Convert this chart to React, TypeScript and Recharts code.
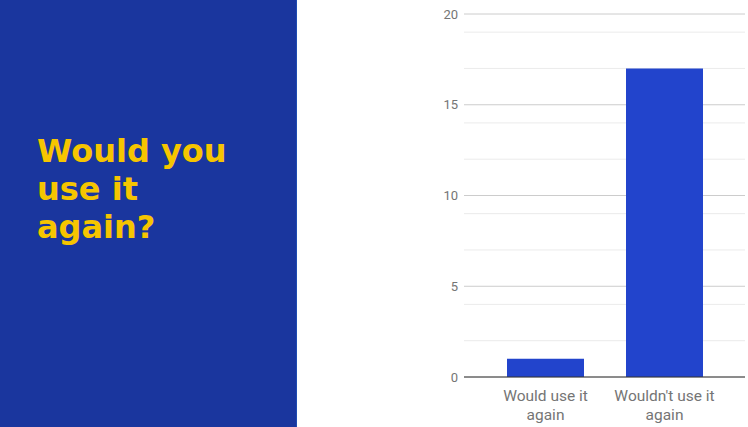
import React from "react";
import {
  BarChart,
  Bar,
  XAxis,
  YAxis,
  CartesianGrid,
  ReferenceLine,
  Text,
} from "recharts";

const categories = ["Would use it again", "Wouldn't use it again"];
const counts = [1, 17];
const majorTicks = [0, 5, 10, 15, 20];
const minorTicks = [1, 2, 3, 4, 6, 7, 8, 9, 11, 12, 13, 14, 16, 17, 18, 19];

const data = categories.map((name, i) => ({ name, value: counts[i] }));

const WrapTick = (props: any) => {
  const { x, y, payload } = props;
  return (
    <Text
      x={x}
      y={y + 5}
      width={112}
      textAnchor="middle"
      verticalAnchor="start"
      lineHeight={19}
      fill="#757575"
      fontSize={15.5}
      fontFamily="Roboto, sans-serif"
    >
      {payload.value}
    </Text>
  );
};

export default function App() {
  return (
    <div
      style={{
        position: "absolute",
        left: 0,
        top: 0,
        width: 748,
        height: 427,
        background: "#fff",
        overflow: "hidden",
      }}
    >
      <div
        style={{
          position: "absolute",
          left: 0,
          top: 0,
          width: 296,
          height: 427,
          background: "#1a369e",
          borderRight: "1px solid #1f4cb2",
        }}
      >
        <div
          style={{
            position: "absolute",
            left: 37,
            top: 132,
            width: 240,
            color: "#f6c500",
            fontFamily: "'DejaVu Sans', sans-serif",
            fontWeight: 700,
            fontSize: 32,
            lineHeight: "38px",
          }}
        >
          Would you
          <br />
          use it
          <br />
          again?
        </div>
      </div>
      <div style={{ position: "absolute", left: 297, top: 0 }}>
        <BarChart
          width={451}
          height={427}
          data={data}
          margin={{ top: 14, right: 3, bottom: 0, left: 107 }}
          barSize={77}
        >
          <CartesianGrid
            vertical={false}
            horizontalValues={minorTicks}
            stroke="#ebebeb"
            strokeWidth={1}
          />
          <CartesianGrid vertical={false} stroke="#cccccc" strokeWidth={1} />
          <XAxis
            dataKey="name"
            height={50}
            axisLine={false}
            tickLine={false}
            padding={{ left: 22, right: 21 }}
            tick={<WrapTick />}
            interval={0}
          />
          <YAxis
            width={60}
            domain={[0, 20]}
            ticks={majorTicks}
            axisLine={false}
            tickLine={false}
            tickSize={6}
            tickMargin={0}
            tick={{ fill: "#757575", fontSize: 13, fontFamily: "Roboto, sans-serif" }}
          />
          <Bar dataKey="value" fill="#2244cc" isAnimationActive={false} />
          <ReferenceLine y={0} stroke="#333333" strokeWidth={1} />
        </BarChart>
      </div>
    </div>
  );
}
